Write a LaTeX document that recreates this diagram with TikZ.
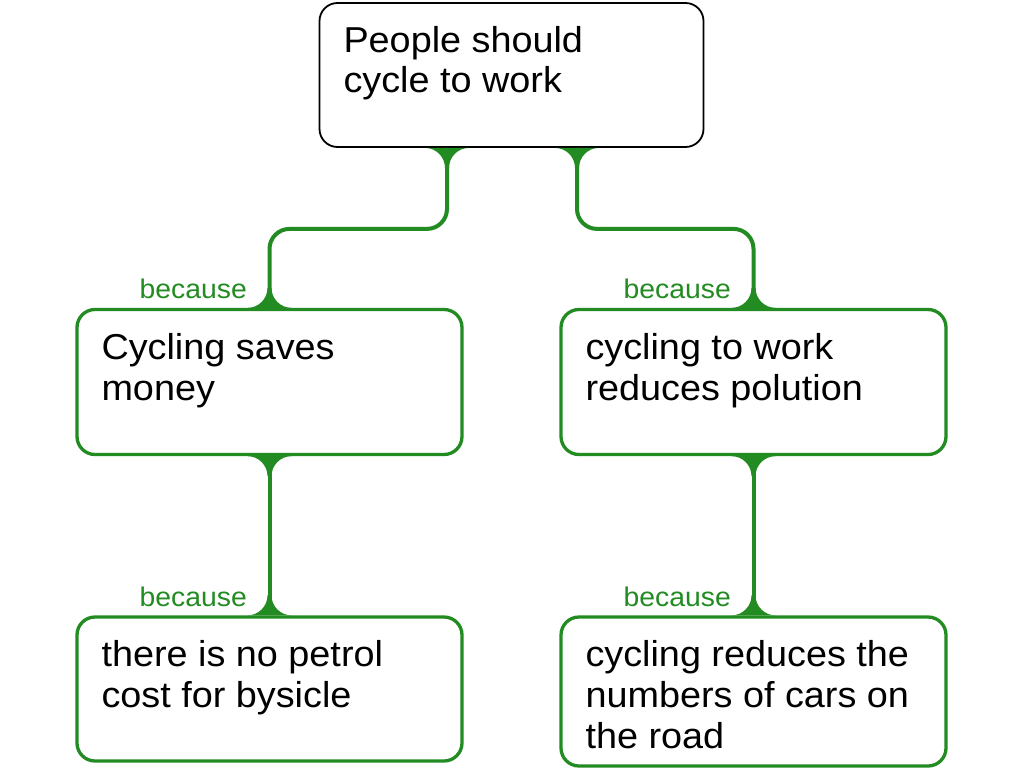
\documentclass[tikz,border=0pt]{standalone}
\usepackage{fontspec}
\setmainfont{Liberation Sans}[FakeStretch=1.05]
\definecolor{argreen}{RGB}{34,139,34}
\newcommand{\bxt}[3]{\parbox[c][#1][t]{336pt}{\fontsize{36pt}{#2}\selectfont\raggedright\noindent\rule{0pt}{49.5pt}#3\par}}
\tikzset{
  mainbox/.style={draw=black, line width=1.8pt, rounded corners=18pt, minimum width=384pt, inner sep=0pt},
  argbox/.style={draw=argreen, line width=3.3pt, rounded corners=18pt, minimum width=385pt, inner sep=0pt},
  link/.style={draw=argreen, line width=4pt, rounded corners=20pt},
  lbl/.style={text=argreen, font=\fontsize{27pt}{27pt}\selectfont, anchor=base east, inner sep=0pt},
  flaredown/.pic={\fill[argreen] (-22,0) .. controls (-11,0) and (-2,9) .. (-2,20) -- (2,20) .. controls (2,9) and (11,0) .. (22,0) -- cycle;},
  flareup/.pic={\fill[argreen] (-22,0) .. controls (-11,0) and (-2,-9) .. (-2,-20) -- (2,-20) .. controls (2,-9) and (11,0) .. (22,0) -- cycle;}
}
\begin{document}
\begin{tikzpicture}[x=1pt,y=-1pt]
\useasboundingbox[fill=white] (0,0) rectangle (1024,768);
\node[mainbox] (root) at (511.5,75) {\bxt{144pt}{40pt}{People should\\cycle to work}};
\node[argbox] (lmid) at (269.5,382) {\bxt{145pt}{41pt}{Cycling saves\\money}};
\node[argbox] (rmid) at (753.5,382) {\bxt{145pt}{41pt}{cycling to work\\reduces polution}};
\node[argbox] (lbot) at (269.5,689) {\bxt{144pt}{41pt}{there is no petrol\\cost for bysicle}};
\node[argbox] (rbot) at (753.5,691.5) {\bxt{149pt}{41pt}{cycling reduces the\\numbers of cars on\\the road}};
\coordinate (r1) at ([xshift=-64.5pt]root.south);
\coordinate (r2) at ([xshift=65.5pt]root.south);
\draw[link] (r1) -- ++(0,81) -| (lmid.north);
\draw[link] (r2) -- ++(0,81) -| (rmid.north);
\draw[link] (lmid.south) -- (lbot.north);
\draw[link] (rmid.south) -- (rbot.north);
\pic at (r1) {flaredown};
\pic at (r2) {flaredown};
\pic at (lmid.north) {flareup};
\pic at (rmid.north) {flareup};
\pic at (lmid.south) {flaredown};
\pic at (rmid.south) {flaredown};
\pic at (lbot.north) {flareup};
\pic at (rbot.north) {flareup};
\node[lbl] (b1) at ([xshift=-22.5pt,yshift=9pt]lmid.north) {because};
\node[lbl] (b2) at ([xshift=-22.5pt,yshift=9pt]rmid.north) {because};
\node[lbl] (b3) at ([xshift=-22.5pt,yshift=9pt]lbot.north) {because};
\node[lbl] (b4) at ([xshift=-22.5pt,yshift=9pt]rbot.north) {because};
\end{tikzpicture}
\end{document}
